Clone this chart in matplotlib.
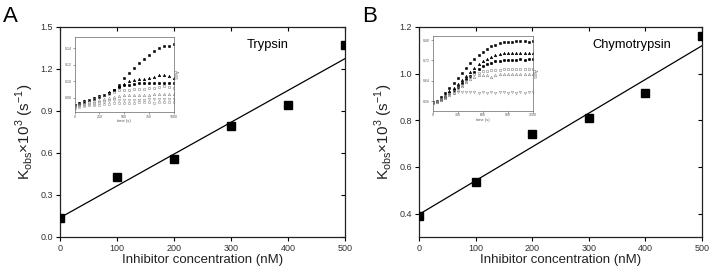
import numpy as np
import matplotlib
matplotlib.use("Agg")
import matplotlib.pyplot as plt

plt.rcParams['font.family'] = ['Liberation Sans', 'DejaVu Sans']
plt.rcParams['mathtext.fontset'] = 'custom'
plt.rcParams['mathtext.rm'] = 'Liberation Sans'

# main panels: inhibitor concentration (nM) vs Kobs x 10^3 (s^-1)
conc = [0, 100, 200, 300, 400, 500]
kobs_tryp = [0.135, 0.43, 0.56, 0.795, 0.945, 1.37]
kobs_chymo = [0.39, 0.535, 0.74, 0.81, 0.915, 1.16]

# inset A: absorbance traces, trypsin
time_a = [0, 50, 100, 150, 200, 250, 300, 350, 400, 450, 500,
          550, 600, 650, 700, 750, 800, 850, 900, 950, 1000]
tryp_k1 = [0.072, 0.074, 0.076, 0.078, 0.080, 0.082, 0.084, 0.086, 0.089, 0.095, 0.104,
           0.110, 0.116, 0.122, 0.127, 0.132, 0.136, 0.140, 0.143, 0.143, 0.145]
tryp_k2 = [0.072, 0.074, 0.076, 0.078, 0.080, 0.082, 0.084, 0.087, 0.090, 0.094, 0.097,
           0.100, 0.102, 0.103, 0.103, 0.104, 0.105, 0.107, 0.107, 0.106, 0.104]
tryp_k3 = [0.071, 0.073, 0.075, 0.077, 0.079, 0.081, 0.083, 0.086, 0.089, 0.093, 0.095,
           0.096, 0.097, 0.098, 0.098, 0.098, 0.098, 0.098, 0.098, 0.098, 0.098]
tryp_g1 = [0.071, 0.073, 0.075, 0.077, 0.079, 0.081, 0.083, 0.085, 0.087, 0.089, 0.090,
           0.090, 0.091, 0.091, 0.091, 0.092, 0.092, 0.093, 0.094, 0.093, 0.092]
tryp_g2 = [0.070, 0.072, 0.073, 0.075, 0.076, 0.078, 0.079, 0.080, 0.081, 0.082, 0.083,
           0.083, 0.083, 0.084, 0.084, 0.084, 0.085, 0.085, 0.085, 0.085, 0.085]
tryp_g3 = [0.069, 0.070, 0.071, 0.072, 0.073, 0.074, 0.075, 0.076, 0.077, 0.077, 0.078,
           0.078, 0.078, 0.078, 0.078, 0.079, 0.079, 0.079, 0.079, 0.079, 0.079]
tryp_g4 = [0.068, 0.069, 0.070, 0.071, 0.072, 0.072, 0.073, 0.073, 0.074, 0.074, 0.074,
           0.074, 0.074, 0.075, 0.075, 0.075, 0.074, 0.075, 0.075, 0.075, 0.075]

# inset B: absorbance traces, chymotrypsin
time_b = [0, 50, 100, 150, 200, 250, 300, 350, 400, 450, 500, 550, 600,
          650, 700, 750, 800, 850, 900, 950, 1000, 1050, 1100, 1150, 1200]
chymo_k1 = [0.555, 0.562, 0.575, 0.592, 0.610, 0.630, 0.650, 0.670, 0.690, 0.710, 0.727, 0.742, 0.755,
            0.766, 0.775, 0.782, 0.787, 0.791, 0.793, 0.794, 0.795, 0.795, 0.795, 0.794, 0.795]
chymo_k2 = [0.555, 0.560, 0.570, 0.583, 0.598, 0.612, 0.627, 0.643, 0.660, 0.676, 0.692, 0.705, 0.716,
            0.726, 0.734, 0.740, 0.745, 0.748, 0.750, 0.751, 0.751, 0.751, 0.750, 0.751, 0.751]
chymo_k3 = [0.555, 0.559, 0.567, 0.578, 0.590, 0.602, 0.615, 0.630, 0.645, 0.660, 0.674, 0.687, 0.697,
            0.705, 0.711, 0.716, 0.719, 0.721, 0.722, 0.723, 0.723, 0.724, 0.723, 0.724, 0.724]
chymo_g1 = [0.555, 0.558, 0.565, 0.575, 0.586, 0.598, 0.610, 0.625, 0.640, 0.655, 0.665, 0.672, 0.677,
            0.679, 0.681, 0.683, 0.684, 0.685, 0.686, 0.686, 0.687, 0.688, 0.688, 0.688, 0.688]
chymo_g2 = [0.554, 0.557, 0.563, 0.572, 0.582, 0.593, 0.605, 0.620, 0.635, 0.648, 0.656, 0.661, 0.664,
            0.662, 0.655, 0.662, 0.665, 0.666, 0.667, 0.667, 0.668, 0.667, 0.668, 0.668, 0.668]
chymo_g3 = [0.553, 0.560, 0.570, 0.580, 0.588, 0.593, 0.595, 0.594, 0.596, 0.595, 0.597, 0.593, 0.596,
            0.592, 0.595, 0.590, 0.594, 0.596, 0.593, 0.595, 0.592, 0.596, 0.592, 0.594, 0.597]

W, H = 713, 274
fig = plt.figure(figsize=(W / 100, H / 100), dpi=100)

TICK_COLOR = '#333333'


def main_panel(rect, y, ylim, yticks, name, name_x, letter, letter_x):
    ax = fig.add_axes(rect)
    ax.plot(conc, y, 's', color='black', markersize=5.5, clip_on=True, zorder=3)
    slope, icpt = np.polyfit(conc, y, 1)
    xs = np.array([0, 500])
    ax.plot(xs, slope * xs + icpt, color='black', lw=0.9)
    ax.set_xlim(0, 500)
    ax.set_ylim(*ylim)
    ax.set_xticks([0, 100, 200, 300, 400, 500])
    ax.set_yticks(yticks)
    ax.tick_params(direction='out', length=3, width=0.8, labelsize=6.5,
                   labelcolor=TICK_COLOR, pad=2)
    for s in ax.spines.values():
        s.set_linewidth(0.9)
        s.set_color('#222222')
    top = ax.secondary_xaxis('top')
    top.set_xticks([0, 100, 200, 300, 400, 500])
    top.tick_params(direction='in', length=3, width=0.8, labeltop=False)
    top.spines['top'].set_visible(False)
    right = ax.secondary_yaxis('right')
    right.set_yticks(yticks)
    right.tick_params(direction='in', length=3, width=0.8, labelright=False)
    right.spines['right'].set_visible(False)
    ax.set_xlabel('Inhibitor concentration (nM)', fontsize=9.5, labelpad=1, color='#222222')
    ax.set_ylabel('K$_{\\mathregular{obs}}$×10$^{\\mathregular{3}}$ (s$^{\\mathregular{-1}}$)',
                  fontsize=11, labelpad=3, color='#222222')
    fig.text(name_x / W, 1 - 45 / H, name, fontsize=9.3, ha='left', va='center')
    fig.text(letter_x / W, 1 - 16 / H, letter, fontsize=16, ha='left', va='center')
    return ax


def inset(rect, t, series, xlim, xticks, ylim, yticks):
    ax = fig.add_axes(rect)
    styles = [('s', 'black', 'black'), ('^', 'black', 'black'), ('o', 'black', 'black'),
              ('o', 'none', '#888888'), ('^', 'none', '#888888'),
              ('v', 'none', '#999999'), ('s', 'none', '#999999')]
    for ys, (m, fc, ec) in zip(series, styles):
        ax.plot(t, ys, m, markersize=1.8, markerfacecolor=fc, markeredgecolor=ec,
                markeredgewidth=0.4, linestyle='none')
    ax.set_xlim(*xlim)
    ax.set_ylim(*ylim)
    ax.set_xticks(xticks)
    ax.set_yticks(yticks)
    ax.tick_params(direction='out', length=1.2, width=0.4, labelsize=2.5, pad=0.8,
                   labelcolor='#555555', colors='#555555')
    for s in ax.spines.values():
        s.set_linewidth(0.5)
        s.set_color('#666666')
    ax.set_xlabel('time (s)', fontsize=3, labelpad=0.5, color='#555555')
    ax.yaxis.set_label_position('right')
    ax.set_ylabel('A$_{\\mathregular{405}}$', fontsize=3.5, rotation=270,
                  labelpad=4, color='#555555')
    return ax


main_panel([60 / W, 37 / H, 285 / W, 210 / H], kobs_tryp, (0.0, 1.5),
           [0.0, 0.3, 0.6, 0.9, 1.2, 1.5], 'Trypsin', 247, 'A', 3)
main_panel([419 / W, 37 / H, 283 / W, 210 / H], kobs_chymo, (0.3, 1.2),
           [0.4, 0.6, 0.8, 1.0, 1.2], 'Chymotrypsin', 592, 'B', 362)

inset([74.5 / W, 162 / H, 99.5 / W, 74.7 / H], time_a,
      [tryp_k1, tryp_k2, tryp_k3, tryp_g1, tryp_g2, tryp_g3, tryp_g4],
      (0, 1000), [0, 250, 500, 750, 1000], (0.063, 0.153), [0.08, 0.10, 0.12, 0.14])
inset([432.7 / W, 163.5 / H, 100.3 / W, 74.5 / H], time_b,
      [chymo_k1, chymo_k2, chymo_k3, chymo_g1, chymo_g2, chymo_g3],
      (0, 1200), [0, 300, 600, 900, 1200], (0.523, 0.816), [0.56, 0.64, 0.72, 0.80])

fig.savefig('out.png', dpi=100)
